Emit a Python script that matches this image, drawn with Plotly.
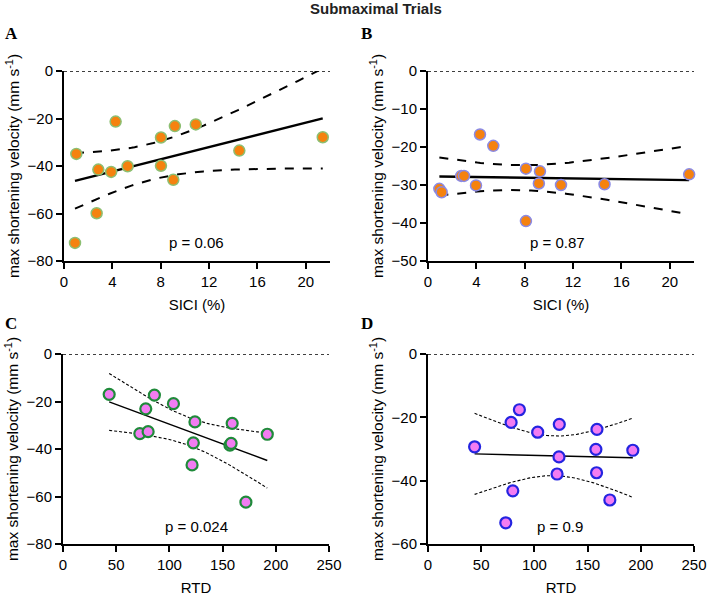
import numpy as np
import plotly.graph_objects as go

# ---- data ----
sici_a = [0.91, 1.02, 2.7, 2.84, 3.9, 4.27, 5.26, 8.02, 8.02, 9.04, 9.17, 10.9, 14.5, 21.4]
vel_a = [-72.4, -34.9, -59.9, -41.5, -42.5, -21.3, -40.1, -28.0, -39.9, -45.8, -23.2, -22.5, -33.5, -27.9]

sici_b = [0.94, 1.13, 2.75, 2.98, 3.97, 4.3, 5.4, 8.1, 8.1, 9.17, 9.26, 11.0, 14.6, 21.6]
vel_b = [-31.0, -31.9, -27.6, -27.6, -30.1, -16.7, -19.7, -25.7, -39.5, -29.6, -26.4, -30.0, -29.8, -27.2]

rtd_c = [43.4, 72.2, 77.8, 80.0, 85.9, 103.8, 121.3, 122.5, 124.0, 156.9, 158.0, 159.0, 171.9, 192.0]
vel_c = [-17.0, -33.5, -23.1, -32.7, -17.3, -20.9, -46.7, -37.4, -28.6, -38.4, -37.6, -29.2, -62.4, -33.8]

rtd_d = [43.8, 73.1, 78.1, 79.7, 85.9, 103.1, 121.3, 123.4, 123.1, 157.8, 158.8, 158.4, 170.9, 192.5]
vel_d = [-29.3, -53.3, -21.6, -43.2, -17.6, -24.7, -37.9, -22.2, -32.5, -30.1, -23.8, -37.5, -46.1, -30.4]

p_labels = ["p = 0.06", "p = 0.87", "p = 0.024", "p = 0.9"]
panel_letters = ["A", "B", "C", "D"]
x_titles = ["SICI (%)", "SICI (%)", "RTD", "RTD"]
y_title = "max shortening velocity (mm s<sup>-1</sup>)"
fig_title = "Submaximal Trials"

T_CRIT = 2.1788  # t(0.975, df=12)


def fit_band(x, y, npts=80):
    x = np.asarray(x, float)
    y = np.asarray(y, float)
    n = len(x)
    b, a = np.polyfit(x, y, 1)
    res = y - (a + b * x)
    s = np.sqrt(np.sum(res ** 2) / (n - 2))
    xm = x.mean()
    sxx = np.sum((x - xm) ** 2)
    xg = np.linspace(x.min(), x.max(), npts)
    yh = a + b * xg
    se = s * np.sqrt(1.0 / n + (xg - xm) ** 2 / sxx)
    return xg, yh, yh - T_CRIT * se, yh + T_CRIT * se


W, H = 708, 597
def xd(p0, p1):
    return [p0 / W, p1 / W]
def yd(p0, p1):
    return [1 - p1 / H, 1 - p0 / H]

panels = [
    dict(x=sici_a, y=vel_a, xdom=xd(64, 330), ydom=yd(71, 261), xr=[0, 22], yr=[-80, 0],
         xt=[0, 4, 8, 12, 16, 20], yt=[0, -20, -40, -60, -80],
         fill="#F5820F", edge="#8CBF72", ew=1.5, lw=2.0, pxy=(10.96, -72.4)),
    dict(x=sici_b, y=vel_b, xdom=xd(428, 694), ydom=yd(71, 261), xr=[0, 22], yr=[-50, 0],
         xt=[0, 4, 8, 12, 16, 20], yt=[0, -10, -20, -30, -40, -50],
         fill="#F5820F", edge="#8A8AE6", ew=1.5, lw=2.0, pxy=(10.7, -45.2)),
    dict(x=rtd_c, y=vel_c, xdom=xd(63, 329), ydom=yd(354, 544), xr=[0, 250], yr=[-80, 0],
         xt=[0, 50, 100, 150, 200, 250], yt=[0, -20, -40, -60, -80],
         fill="#F27CF2", edge="#1F8A3A", ew=2.2, lw=1.1, pxy=(125.6, -72.5)),
    dict(x=rtd_d, y=vel_d, xdom=xd(428, 694), ydom=yd(354, 544), xr=[0, 250], yr=[-60, 0],
         xt=[0, 50, 100, 150, 200, 250], yt=[0, -20, -40, -60],
         fill="#F27CF2", edge="#2424E0", ew=2.2, lw=1.1, pxy=(124.4, -54.4)),
]

fig = go.Figure()
font_main = "Arial"

for i, p in enumerate(panels):
    k = "" if i == 0 else str(i + 1)
    xa, ya = "x" + k, "y" + k
    xg, yh, lo, hi = fit_band(p["x"], p["y"])
    dash_style = "dash" if p["lw"] > 1.5 else "3px,2px"
    for yy in (lo, hi):
        fig.add_trace(go.Scatter(x=xg, y=yy, mode="lines", xaxis=xa, yaxis=ya,
                                 line=dict(color="black", width=p["lw"], dash=dash_style),
                                 showlegend=False, hoverinfo="skip"))
    fig.add_trace(go.Scatter(x=xg, y=yh, mode="lines", xaxis=xa, yaxis=ya,
                             line=dict(color="black", width=p["lw"] + 0.3),
                             showlegend=False, hoverinfo="skip"))
    fig.add_trace(go.Scatter(x=p["x"], y=p["y"], mode="markers", xaxis=xa, yaxis=ya,
                             marker=dict(size=11, color=p["fill"],
                                         line=dict(color=p["edge"], width=p["ew"])),
                             showlegend=False, cliponaxis=False))
    # dotted zero line
    fig.add_shape(type="line", xref=xa, yref=ya, x0=p["xr"][0], x1=p["xr"][1], y0=0, y1=0,
                  line=dict(color="black", width=1.6, dash="dot"))
    # p value
    fig.add_annotation(x=p["pxy"][0], y=p["pxy"][1], xref=xa, yref=ya, text=p_labels[i],
                       showarrow=False, font=dict(size=15, color="black", family=font_main))
    axis_common = dict(showline=True, linecolor="black", linewidth=2, ticks="outside",
                       ticklen=6, tickwidth=2, tickcolor="black", showgrid=False, zeroline=False,
                       automargin=False,
                       tickfont=dict(size=15, color="black", family=font_main))
    fig.update_layout(**{
        "xaxis" + k: dict(domain=p["xdom"], range=p["xr"], tickvals=p["xt"], anchor=ya,
                          title=dict(text=x_titles[i], font=dict(size=15, color="black", family=font_main),
                                     standoff=10),
                          **axis_common),
        "yaxis" + k: dict(domain=p["ydom"], range=p["yr"], tickvals=p["yt"], anchor=xa,
                          title=dict(text=y_title, font=dict(size=15.5, color="black", family=font_main),
                                     standoff=4),
                          **axis_common),
    })

# panel letters
letter_pos = [(3, 33), (359, 33), (3, 323), (359, 323)]
for (px, py), letter in zip(letter_pos, panel_letters):
    fig.add_annotation(x=px / W, y=1 - py / H, xref="paper", yref="paper", text="<b>%s</b>" % letter,
                       showarrow=False, xanchor="left", yanchor="middle",
                       font=dict(size=17, color="black", family="Liberation Serif"))

fig.add_annotation(x=376 / W, y=1 - 8 / H, xref="paper", yref="paper", text="<b>%s</b>" % fig_title,
                   showarrow=False, xanchor="center", yanchor="middle",
                   font=dict(size=15, color="#222", family=font_main))

fig.update_layout(width=W, height=H, margin=dict(l=0, r=0, t=0, b=0, autoexpand=False),
                  paper_bgcolor="white", plot_bgcolor="white")

fig.write_html("out.html", config={"displayModeBar": False},
               post_script="document.body.style.margin='0';document.body.style.padding='0';")
